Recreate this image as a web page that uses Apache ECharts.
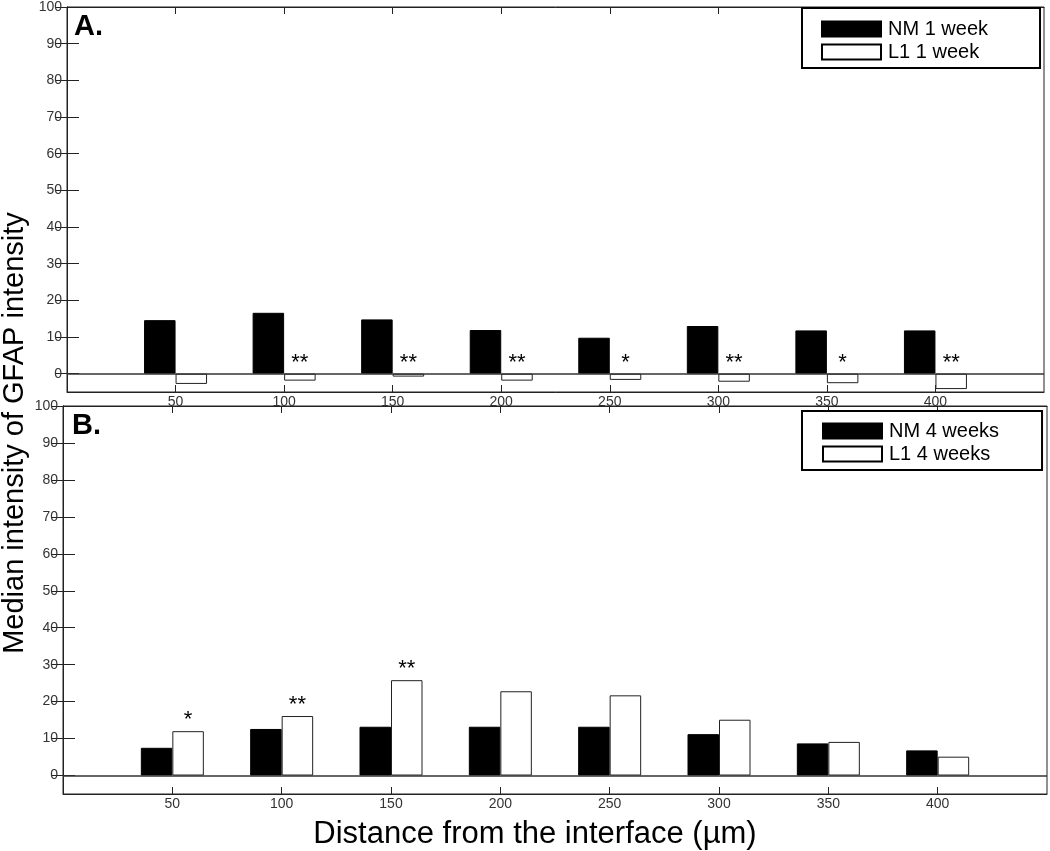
<!DOCTYPE html>
<html>
<head>
<meta charset="utf-8">
<script src="https://cdn.jsdelivr.net/npm/echarts@6/dist/echarts.min.js"></script>
<style>
html, body { margin: 0; padding: 0; background: #fff; }
#chart { width: 1050px; height: 851px; }
</style>
</head>
<body>
<div id="chart"></div>
<script>
// distance from the interface (µm)
const distances = [50, 100, 150, 200, 250, 300, 350, 400];
// panel A
const nm1Week = [14.6, 16.6, 14.8, 11.9, 9.8, 13.0, 11.8, 11.8];
const l11Week = [-2.8, -1.9, -0.8, -1.9, -1.7, -2.2, -2.6, -4.2];
const sig1Week = ['', '**', '**', '**', '*', '**', '*', '**'];
// panel B
const nm4Weeks = [7.5, 12.6, 13.2, 13.2, 13.2, 11.2, 8.7, 6.8];
const l14Weeks = [12.0, 16.1, 25.8, 22.8, 21.7, 15.1, 9.1, 5.1];
const sig4Weeks = ['*', '**', '**', '', '', '', '', ''];
const yTicks = [0, 10, 20, 30, 40, 50, 60, 70, 80, 90, 100];

const font = "'Liberation Sans', Arial, sans-serif";
const lineColor = '#222';

const getXAxes = (gridIndex) => {
  const base = {
    type: 'value',
    gridIndex,
    min: 0,
    max: 450,
    splitLine: { show: false },
    axisLine: { show: true, onZero: false, lineStyle: { color: lineColor, width: 1 } },
    axisTick: { show: true, inside: true, length: 7, customValues: distances, lineStyle: { color: lineColor } },
  };
  return [
    {
      ...base,
      position: 'bottom',
      axisLabel: { customValues: distances, margin: 3, fontSize: 14, color: '#333', fontFamily: font },
    },
    { ...base, position: 'top', axisLabel: { show: false } },
  ];
};

const getYAxes = (gridIndex) => {
  const base = {
    type: 'value',
    gridIndex,
    min: -5,
    max: 100,
    splitLine: { show: false },
    axisLine: { show: true, lineStyle: { color: lineColor, width: 1 } },
    axisTick: { show: true, inside: true, length: 12, customValues: yTicks, lineStyle: { color: lineColor } },
  };
  return [
    {
      ...base,
      position: 'left',
      axisLabel: { customValues: yTicks, margin: 5, fontSize: 14, color: '#333', fontFamily: font },
    },
    { ...base, position: 'right', axisTick: { ...base.axisTick, length: 11 }, axisLabel: { show: false } },
  ];
};

const pairs = (values) => distances.map((d, i) => [d, values[i]]);

const zeroLine = {
  silent: true,
  symbol: ['none', 'none'],
  label: { show: false },
  lineStyle: { color: '#333', width: 1.5, type: 'solid' },
  data: [{ yAxis: 0 }],
};

const getBars = (names, nm, l1, sig, axisIndex) => [
  {
    type: 'bar',
    name: names[0],
    xAxisIndex: axisIndex,
    yAxisIndex: axisIndex,
    barWidth: 31.5,
    barGap: '0%',
    itemStyle: { color: '#000', borderColor: '#000', borderWidth: 1 },
    data: pairs(nm),
    markLine: zeroLine,
  },
  {
    type: 'bar',
    name: names[1],
    xAxisIndex: axisIndex,
    yAxisIndex: axisIndex,
    barWidth: 31.5,
    barGap: '0%',
    itemStyle: { color: '#fff', borderColor: '#222', borderWidth: 1 },
    label: {
      show: true,
      position: 'top',
      distance: 0,
      fontSize: 22,
      color: '#000',
      fontFamily: font,
      formatter: (p) => sig[p.dataIndex],
    },
    data: pairs(l1),
  },
];

const legendBase = {
  orient: 'vertical',
  icon: 'rect',
  itemWidth: 59,
  itemHeight: 15,
  itemGap: 3,
  borderColor: '#000',
  borderWidth: 2,
  borderRadius: 0,
  backgroundColor: '#fff',
  itemStyle: { borderColor: '#000', borderWidth: 2 },
  textStyle: { fontSize: 20, color: '#000', fontFamily: font, padding: [0, 0, 0, 2] },
};

const chart = echarts.init(document.getElementById('chart'));
chart.setOption({
  animation: false,
  backgroundColor: '#fff',
  grid: [
    { left: 67, top: 4, width: 977, height: 388, show: true, borderColor: lineColor, borderWidth: 1 },
    { left: 63, top: 406, width: 984, height: 388, show: true, borderColor: lineColor, borderWidth: 1 },
  ],
  xAxis: [...getXAxes(0), ...getXAxes(1)],
  yAxis: [...getYAxes(0), ...getYAxes(1)],
  legend: [
    { ...legendBase, data: ['NM 1 week', 'L1 1 week'], left: 802, top: 8, padding: [11, 52, 6, 19] },
    { ...legendBase, data: ['NM 4 weeks', 'L1 4 weeks'], left: 802, top: 411, padding: [10, 43, 6, 20] },
  ],
  graphic: [
    {
      type: 'text', x: 15, y: 433, rotation: Math.PI / 2,
      style: { text: 'Median intensity of GFAP intensity', font: '29px ' + font, fill: '#000', align: 'center', verticalAlign: 'middle' },
    },
    {
      type: 'text', x: 535, y: 834,
      style: { text: 'Distance from the interface (µm)', font: '31px ' + font, fill: '#000', align: 'center', verticalAlign: 'middle' },
    },
    {
      type: 'text', x: 74, y: 27,
      style: { text: 'A.', font: 'bold 29px ' + font, fill: '#000', align: 'left', verticalAlign: 'middle' },
    },
    {
      type: 'text', x: 72, y: 426,
      style: { text: 'B.', font: 'bold 29px ' + font, fill: '#000', align: 'left', verticalAlign: 'middle' },
    },
  ],
  series: [
    ...getBars(['NM 1 week', 'L1 1 week'], nm1Week, l11Week, sig1Week, 0),
    ...getBars(['NM 4 weeks', 'L1 4 weeks'], nm4Weeks, l14Weeks, sig4Weeks, 2),
  ],
});
</script>
</body>
</html>
